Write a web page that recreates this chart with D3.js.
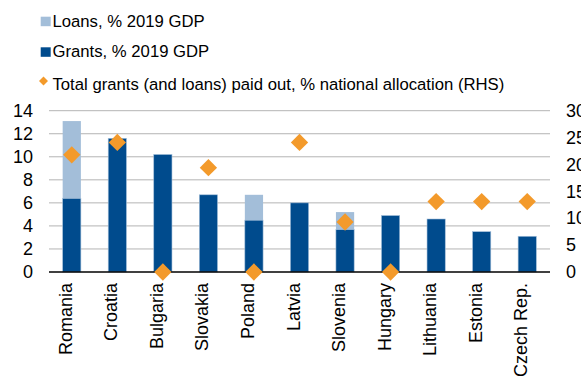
<!DOCTYPE html>
<html>
<head>
<meta charset="utf-8">
<script src="https://cdnjs.cloudflare.com/ajax/libs/d3/7.8.5/d3.min.js"></script>
<style>
  body { margin: 0; background: #fff; }
  svg { display: block; font-family: "Liberation Sans", Arial, sans-serif; }
</style>
</head>
<body>
<svg id="svg1" width="581" height="376"></svg>
<script>
//data
var countries = ["Romania", "Croatia", "Bulgaria", "Slovakia", "Poland", "Latvia",
                 "Slovenia", "Hungary", "Lithuania", "Estonia", "Czech Rep."];
var grants = [6.4, 11.6, 10.2, 6.7, 4.5, 6.0, 3.7, 4.9, 4.6, 3.5, 3.1];
var loans  = [6.7, 0, 0, 0, 2.2, 0, 1.5, 0, 0, 0, 0];
var paidOut = [21.8, 24.1, 0, 19.4, 0, 24.1, 9.3, 0, 13.1, 13.1, 13.1];
var leftTicks = [0, 2, 4, 6, 8, 10, 12, 14];
var rightTicks = [0, 5, 10, 15, 20, 25, 30];
var legendItems = ["Loans, % 2019 GDP", "Grants, % 2019 GDP",
                   "Total grants (and loans) paid out, % national allocation (RHS)"];

//set up constants
var plotLeft = 49;
var plotRight = 550;
var plotTop = 110.7;
var plotBottom = 272;
var grantColour = "#004b8d";
var loanColour = "#a3bed9";
var dotColour = "#f39a2b";

var svg = d3.select("#svg1");

//scales
var xScale = d3.scaleBand()
    .domain(countries)
    .range([plotLeft, plotRight])
    .paddingInner(0.6)
    .paddingOuter(0.3);

var yLeft = d3.scaleLinear()
    .domain([0, 14])
    .range([plotBottom, plotTop]);

var yRight = d3.scaleLinear()
    .domain([0, 30])
    .range([plotBottom, plotTop]);

//gridlines
svg.append("g")
    .selectAll("line")
    .data(leftTicks.filter(function(d) { return d > 0; }))
    .enter().append("line")
    .attr("x1", plotLeft)
    .attr("x2", plotRight)
    .attr("y1", function(d) { return yLeft(d); })
    .attr("y2", function(d) { return yLeft(d); })
    .style("stroke", "#b4b4b4")
    .style("stroke-width", 1);

//left axis
var y_axis = d3.axisLeft(yLeft).tickValues(leftTicks).tickSize(0).tickPadding(16);
svg.append("g")
    .attr("transform", "translate(" + plotLeft + ",0)")
    .call(y_axis)
    .call(function(g) { g.select(".domain").remove(); })
    .selectAll("text")
    .style("font-size", "18px")
    .style("fill", "#000");

//right axis (cut off by the edge, as in the original)
var y_axis2 = d3.axisRight(yRight).tickValues(rightTicks).tickSize(0).tickPadding(16);
svg.append("g")
    .attr("transform", "translate(" + plotRight + ",0)")
    .call(y_axis2)
    .call(function(g) { g.select(".domain").remove(); })
    .selectAll("text")
    .style("font-size", "18px")
    .style("fill", "#000");

//grants bars
svg.append("g")
    .selectAll("rect")
    .data(countries)
    .enter().append("rect")
    .attr("x", function(d) { return xScale(d); })
    .attr("width", xScale.bandwidth())
    .attr("y", function(d, i) { return yLeft(grants[i]); })
    .attr("height", function(d, i) { return yLeft(0) - yLeft(grants[i]); })
    .style("fill", grantColour)
    .style("stroke", loanColour)
    .style("stroke-width", 0.6);

//loans stacked on top
svg.append("g")
    .selectAll("rect")
    .data(countries.filter(function(d, i) { return loans[i] > 0; }))
    .enter().append("rect")
    .attr("x", function(d) { return xScale(d); })
    .attr("width", xScale.bandwidth())
    .attr("y", function(d) {
        var i = countries.indexOf(d);
        return yLeft(grants[i] + loans[i]);
    })
    .attr("height", function(d) {
        var i = countries.indexOf(d);
        return yLeft(grants[i]) - yLeft(grants[i] + loans[i]);
    })
    .style("fill", loanColour);

//zero line
svg.append("line")
    .attr("x1", plotLeft)
    .attr("x2", plotRight)
    .attr("y1", yLeft(0))
    .attr("y2", yLeft(0))
    .style("stroke", "#000")
    .style("stroke-width", 1.5);

//diamonds (RHS)
var diamond = d3.symbol().type(d3.symbolSquare).size(150);
svg.append("g")
    .selectAll("path")
    .data(countries)
    .enter().append("path")
    .attr("d", diamond)
    .attr("transform", function(d, i) {
        return "translate(" + (xScale(d) + xScale.bandwidth() / 2) + "," + yRight(paidOut[i]) + ") rotate(45)";
    })
    .style("fill", dotColour);

//category labels
svg.append("g")
    .selectAll("text")
    .data(countries)
    .enter().append("text")
    .text(function(d) { return d; })
    .attr("text-anchor", "end")
    .attr("transform", function(d) {
        return "translate(" + (xScale(d) + xScale.bandwidth() / 2) + "," + 283 + ") rotate(-90)";
    })
    .style("font-size", "18px");

//legend
var legendY = [26.7, 57.3, 90];
var legend = svg.append("g");
legend.append("rect")
    .attr("x", 40.7).attr("y", 16.7).attr("width", 10).attr("height", 9.5)
    .style("fill", loanColour);
legend.append("rect")
    .attr("x", 40.7).attr("y", 47.3).attr("width", 10).attr("height", 9.5)
    .style("fill", grantColour);
legend.append("path")
    .attr("d", d3.symbol().type(d3.symbolSquare).size(40))
    .attr("transform", "translate(43.5,81) rotate(45)")
    .style("fill", dotColour);
legend.selectAll("text")
    .data(legendItems)
    .enter().append("text")
    .attr("x", 52.5)
    .attr("y", function(d, i) { return legendY[i]; })
    .text(function(d) { return d; })
    .style("font-size", "16.7px");
</script>
</body>
</html>
